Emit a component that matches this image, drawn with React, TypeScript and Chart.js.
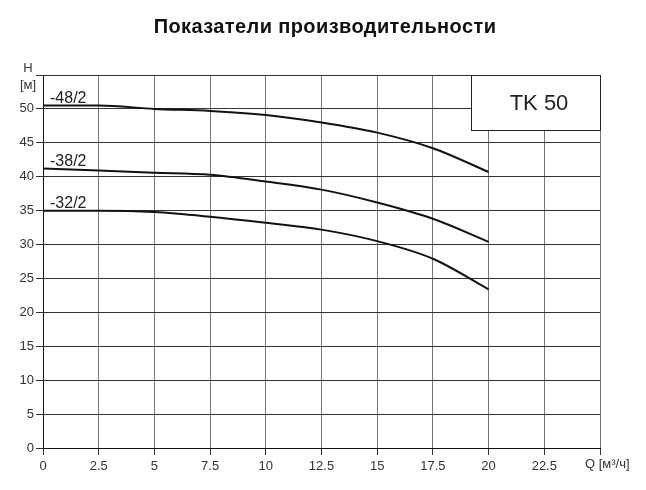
import React, { useEffect, useRef } from "react";
import { Chart, registerables } from "chart.js";

Chart.register(...registerables);

const chartTitle = "Показатели производительности";
const modelName = "TK 50";
const xAxisLabel = "Q [м³/ч]";
const yAxisLabel = ["H", "[м]"];

const flowQ = [0, 2.5, 5, 7.5, 10, 12.5, 15, 17.5, 20];
const head48 = [50.5, 50.5, 50.0, 49.7, 49.1, 48.0, 46.5, 44.2, 40.7];
const head38 = [41.2, 40.9, 40.6, 40.3, 39.3, 38.1, 36.2, 33.8, 30.4];
const head32 = [35.0, 35.0, 34.8, 34.1, 33.2, 32.2, 30.5, 27.9, 23.4];

const seriesNames = ["-48/2", "-38/2", "-32/2"];
const seriesValues = [head48, head38, head32];

const xMin = 0, xMax = 25, xStep = 2.5;
const yMin = 0, yMax = 55, yStep = 5;
// model box extent in data units
const boxX = [19.2, 25];
const boxY = [46.9, 55];

const FONT = '"Liberation Sans", Arial, sans-serif';

export default function App() {
  const ref = useRef<HTMLCanvasElement | null>(null);

  useEffect(() => {
    document.body.style.margin = "0";
    const canvas = ref.current;
    if (!canvas) return;

    const overlay = {
      id: "overlay",
      afterDraw(chart: any) {
        const { ctx, scales } = chart;
        const x = scales.x;
        const y = scales.y;
        ctx.save();
        // title
        ctx.fillStyle = "#111";
        ctx.font = `bold 20px ${FONT}`;
        ctx.textAlign = "center";
        ctx.textBaseline = "alphabetic";
        try { (ctx as any).letterSpacing = "0.4px"; } catch (e) {}
        ctx.fillText(chartTitle, 325, 33);
        try { (ctx as any).letterSpacing = "0px"; } catch (e) {}

        // y axis label
        ctx.fillStyle = "#333";
        ctx.font = `13px ${FONT}`;
        ctx.fillText(yAxisLabel[0], 28, 72);
        ctx.fillText(yAxisLabel[1], 28, 89);

        // x axis label
        ctx.textAlign = "left";
        ctx.fillText(xAxisLabel, 585, 468);

        // series labels
        ctx.fillStyle = "#222";
        ctx.font = `16px ${FONT}`;
        seriesValues.forEach((vals, i) => {
          const px = x.getPixelForValue(flowQ[0]) + 7;
          const py = y.getPixelForValue(vals[0]) - 2.5;
          ctx.fillText(seriesNames[i], px, py);
        });

        // model box
        const bx1 = Math.round(x.getPixelForValue(boxX[0])) + 0.5;
        const bx2 = Math.round(x.getPixelForValue(boxX[1])) + 0.5;
        const by1 = Math.round(y.getPixelForValue(boxY[1])) + 0.5;
        const by2 = Math.round(y.getPixelForValue(boxY[0])) + 0.5;
        ctx.fillStyle = "#fff";
        ctx.fillRect(bx1, by1, bx2 - bx1, by2 - by1);
        ctx.strokeStyle = "#222";
        ctx.lineWidth = 1;
        ctx.strokeRect(bx1, by1, bx2 - bx1, by2 - by1);
        ctx.fillStyle = "#222";
        ctx.font = `22px ${FONT}`;
        ctx.textAlign = "center";
        ctx.textBaseline = "middle";
        ctx.fillText(modelName, (bx1 + bx2) / 2 + 3, (by1 + by2) / 2 + 1);
        ctx.restore();
      },
    };

    const chart = new Chart(canvas, {
      type: "line",
      data: {
        datasets: seriesValues.map((vals, i) => ({
          label: seriesNames[i],
          data: flowQ.map((q, j) => ({ x: q, y: vals[j] })),
          borderColor: "#111",
          borderWidth: 2,
          pointRadius: 0,
          fill: false,
          cubicInterpolationMode: "monotone" as const,
        })),
      },
      options: {
        animation: false,
        responsive: false,
        maintainAspectRatio: false,
        layout: { padding: { top: 75, right: 46, left: 0, bottom: 0 } },
        plugins: {
          legend: { display: false },
          title: { display: false },
          tooltip: { enabled: false },
        },
        scales: {
          x: {
            type: "linear",
            min: xMin,
            max: xMax,
            border: { display: true, color: "#111", width: 1 },
            grid: { color: "#777", lineWidth: 1, tickLength: 7, tickColor: "#333" },
            ticks: {
              stepSize: xStep,
              color: "#333",
              font: { family: FONT, size: 13 },
              padding: 4,
              maxRotation: 0,
              autoSkip: false,
              callback: (v: any) => (Number(v) >= xMax ? "" : String(v)),
            },
            afterFit: (s: any) => {
              s.height = 42;
            },
          },
          y: {
            type: "linear",
            min: yMin,
            max: yMax,
            border: { display: true, color: "#111", width: 1 },
            grid: { color: "#333", lineWidth: 1, tickLength: 7, tickColor: "#333" },
            ticks: {
              stepSize: yStep,
              color: "#333",
              font: { family: FONT, size: 13 },
              padding: 2,
              autoSkip: false,
              callback: (v: any) => (Number(v) >= yMax ? "" : String(v)),
            },
            afterFit: (s: any) => {
              s.width = 43;
            },
          },
        },
      },
      plugins: [overlay],
    });

    return () => chart.destroy();
  }, []);

  return (
    <div style={{ width: 646, height: 490 }}>
      <canvas ref={ref} width={646} height={490} style={{ display: "block" }} />
    </div>
  );
}
